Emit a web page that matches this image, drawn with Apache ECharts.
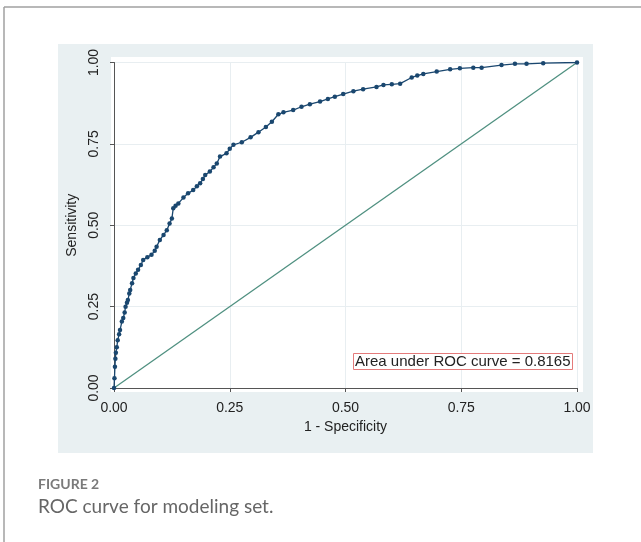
<!DOCTYPE html>
<html>
<head>
<meta charset="utf-8">
<script src="https://cdn.jsdelivr.net/npm/echarts@6/dist/echarts.min.js"></script>
<style>
  html, body { margin: 0; padding: 0; background: #fff; }
  #chart { width: 641px; height: 542px; }
</style>
</head>
<body>
<div id="chart"></div>
<script>
// 1 - specificity (false positive rate)
const fpr = [0, 0.001, 0.002, 0.003, 0.004, 0.006, 0.008, 0.011, 0.013, 0.017, 0.020, 0.023, 0.025,
  0.028, 0.030, 0.033, 0.035, 0.039, 0.042, 0.047, 0.052, 0.058, 0.063, 0.072, 0.081, 0.088, 0.092,
  0.099, 0.107, 0.114, 0.120, 0.125, 0.128, 0.133, 0.139, 0.150, 0.160, 0.171, 0.179, 0.186, 0.192,
  0.197, 0.207, 0.215, 0.222, 0.229, 0.243, 0.250, 0.258, 0.276, 0.295, 0.312, 0.328, 0.341, 0.355,
  0.366, 0.387, 0.405, 0.423, 0.445, 0.462, 0.477, 0.495, 0.517, 0.538, 0.567, 0.582, 0.600, 0.618,
  0.643, 0.655, 0.668, 0.697, 0.726, 0.747, 0.776, 0.794, 0.837, 0.866, 0.891, 0.927, 1];
// sensitivity (true positive rate)
const tpr = [0, 0.030, 0.065, 0.090, 0.108, 0.125, 0.147, 0.165, 0.178, 0.204, 0.215, 0.232, 0.250,
  0.262, 0.270, 0.290, 0.301, 0.322, 0.338, 0.352, 0.363, 0.378, 0.393, 0.402, 0.409, 0.422, 0.434,
  0.455, 0.470, 0.485, 0.505, 0.521, 0.552, 0.560, 0.567, 0.585, 0.598, 0.608, 0.620, 0.629, 0.642,
  0.654, 0.665, 0.678, 0.690, 0.711, 0.721, 0.735, 0.747, 0.755, 0.770, 0.786, 0.802, 0.818, 0.841,
  0.847, 0.854, 0.864, 0.872, 0.880, 0.888, 0.895, 0.903, 0.912, 0.918, 0.925, 0.931, 0.933, 0.935,
  0.954, 0.960, 0.965, 0.972, 0.979, 0.982, 0.984, 0.984, 0.992, 0.996, 0.996, 0.998, 1];
const refLine = [[0, 0], [1, 1]];
const aucText = 'Area under ROC curve = 0.8165';

const rocData = fpr.map((x, i) => [x, tpr[i]]);

const chart = echarts.init(document.getElementById('chart'), null, { renderer: 'canvas' });

const axisFont = { fontFamily: 'Liberation Sans', fontSize: 14, color: '#222' };

const option = {
  backgroundColor: '#fff',
  animation: false,
  graphic: [
    // page frame
    { type: 'line', shape: { x1: 4, y1: 7, x2: 641, y2: 7 }, style: { stroke: '#a0a0a0', lineWidth: 1.5 }, z: -10 },
    { type: 'line', shape: { x1: 4, y1: 7, x2: 4, y2: 542 }, style: { stroke: '#a0a0a0', lineWidth: 1.5 }, z: -10 },
    // graph region and plot region
    { type: 'rect', shape: { x: 58, y: 44, width: 535, height: 409 }, style: { fill: '#e9f0f2' }, z: -10 },
    { type: 'rect', shape: { x: 111, y: 57, width: 472, height: 335 }, style: { fill: '#fff' }, z: -9 }
  ],
  title: [
    {
      text: aucText,
      left: 353, top: 353,
      padding: [1, 2, 1, 2],
      borderColor: '#e47b7b', borderWidth: 1,
      backgroundColor: '#fff',
      textStyle: { fontFamily: 'Liberation Sans', fontSize: 15, fontWeight: 'normal', color: '#222' }
    },
    {
      text: 'FIGURE 2',
      left: 38, top: 477, padding: 0,
      textStyle: { fontFamily: 'Lato', fontSize: 14, fontWeight: 'bold', color: '#7a7a7a' }
    },
    {
      text: 'ROC curve for modeling set.',
      left: 38, top: 497, padding: 0,
      textStyle: { fontFamily: 'Lato', fontSize: 19, fontWeight: 'normal', color: '#666' }
    }
  ],
  grid: { left: 114, right: 64, top: 62.5, bottom: 154, containLabel: false },
  xAxis: {
    type: 'value', min: 0, max: 1, interval: 0.25, offset: 4,
    name: '1 - Specificity', nameLocation: 'middle', nameGap: 25,
    nameTextStyle: axisFont,
    axisLine: { show: true, lineStyle: { color: '#555', width: 1 } },
    axisTick: { show: true, length: 4, lineStyle: { color: '#555' } },
    axisLabel: Object.assign({ margin: 9, formatter: v => v.toFixed(2) }, axisFont),
    splitLine: { show: true, lineStyle: { color: '#e8eef1', width: 1 } }
  },
  yAxis: {
    type: 'value', min: 0, max: 1, interval: 0.25, offset: 4,
    name: 'Sensitivity', nameLocation: 'middle', nameGap: 24,
    nameTextStyle: axisFont,
    axisLine: { show: true, lineStyle: { color: '#555', width: 1 } },
    axisTick: { show: true, length: 4, lineStyle: { color: '#555' } },
    axisLabel: Object.assign({ rotate: 90, margin: 9, formatter: v => v.toFixed(2) }, axisFont),
    splitLine: { show: true, lineStyle: { color: '#e8eef1', width: 1 } }
  },
  series: [
    {
      name: 'reference',
      type: 'line',
      data: refLine,
      showSymbol: false,
      lineStyle: { color: '#4f9080', width: 1.3 },
      z: 2
    },
    {
      name: 'ROC',
      type: 'line',
      data: rocData,
      symbol: 'circle',
      symbolSize: 4.5,
      itemStyle: { color: '#1a476f' },
      lineStyle: { color: '#1a476f', width: 1.3 },
      z: 3
    }
  ]
};

option && chart.setOption(option);
</script>
</body>
</html>
